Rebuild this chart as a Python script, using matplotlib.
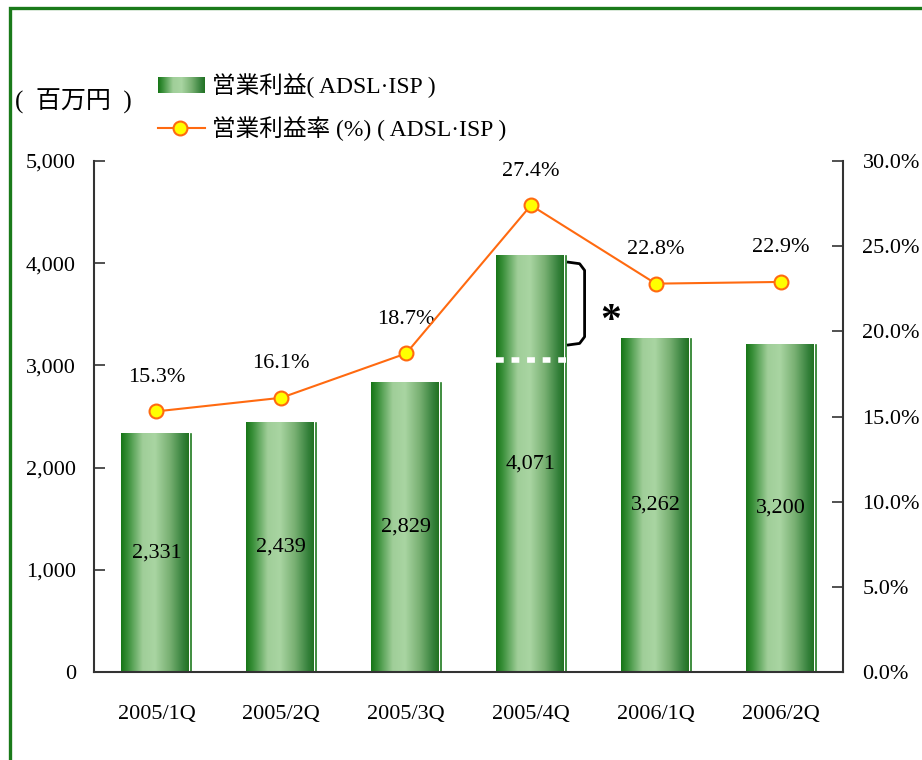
import numpy as np
import matplotlib
matplotlib.use('Agg')
import matplotlib.pyplot as plt
from matplotlib.colors import LinearSegmentedColormap
from matplotlib.lines import Line2D

plt.rcParams['font.family'] = ['Liberation Serif', 'Noto Sans CJK JP', 'DejaVu Sans']

# data
quarters = ['2005/1Q', '2005/2Q', '2005/3Q', '2005/4Q', '2006/1Q', '2006/2Q']
profit = [2331, 2439, 2829, 4071, 3262, 3200]
margin = [15.3, 16.1, 18.7, 27.4, 22.8, 22.9]
left_ticks = [0, 1000, 2000, 3000, 4000, 5000]
right_ticks = [0, 5, 10, 15, 20, 25, 30]
dotted_level = 3053  # dotted line in 2005/4Q bar

bar_cmap = LinearSegmentedColormap.from_list('bar', [
    (0.0, '#167516'), (0.1, '#3a903a'), (0.32, '#a0ce99'), (0.5, '#a9d5a2'),
    (0.72, '#78b072'), (0.92, '#34803a'), (1.0, '#217221')])
grad = np.linspace(0, 1, 256).reshape(1, -1)
fs = 16

fig = plt.figure(figsize=(9.22, 7.6), dpi=100)
ax = fig.add_axes([94 / 922, 1 - 672 / 760, (843 - 94) / 922, (672 - 161) / 760])
x = np.arange(len(quarters))
half = 0.28

for xi, v in zip(x, profit):
    ax.imshow(grad, cmap=bar_cmap, aspect='auto', extent=(xi - half, xi + half - 0.02, 0, v),
              zorder=2, interpolation='bilinear')
    ax.plot([xi + half, xi + half], [0, v], color='#1f7a1f', lw=1.2, zorder=2)
    ax.text(xi, v / 2, f'{v:,}', ha='center', va='center', fontsize=fs, zorder=3)

# dotted white line and bracket on 2005/4Q
ax.plot([3 - half, 3 + half], [dotted_level, dotted_level], color='white', lw=4,
        linestyle=(0, (1.4, 1.4)), solid_capstyle='butt', dash_capstyle='butt', zorder=3)
bx0, bx1 = 3.30, 3.43
ax.plot([bx0, bx1 - 0.04, bx1, bx1, bx1 - 0.04, bx0],
        [4010, 3995, 3930, 3280, 3215, 3200], color='black', lw=2, zorder=3)
ax.text(3.64, 3420, '*', fontsize=30, ha='center', va='center', fontweight='bold')

ax.set_xlim(-0.5, 5.5)
ax.set_ylim(0, 5000)
ax.set_yticks(left_ticks)
ax.set_yticklabels([f'{t:,}' for t in left_ticks], fontsize=fs)
ax.set_xticks(x)
ax.set_xticklabels(quarters, fontsize=fs)
ax.tick_params(axis='x', length=0, pad=24)
ax.tick_params(axis='y', direction='in', length=8, width=1.2, pad=13, colors='#333333', labelcolor='black')
for s in ['top', 'right']:
    ax.spines[s].set_visible(False)
for s in ['left', 'bottom']:
    ax.spines[s].set_linewidth(1.5)
    ax.spines[s].set_color('#333333')

ax2 = ax.twinx()
ax2.plot(x, margin, color='#ff6a10', lw=1.5, marker='o', markersize=10,
         markerfacecolor='#ffff00', markeredgecolor='#ff6a10', markeredgewidth=1.5, zorder=5)
for xi, m in zip(x, margin):
    ax2.annotate(f'{m:.1f}%', (xi, m), xytext=(0, 34), textcoords='offset pixels',
                 ha='center', va='center', fontsize=fs)
ax2.set_ylim(0, 30)
ax2.set_yticks(right_ticks)
ax2.set_yticklabels([f'{t:.1f}%' for t in right_ticks], fontsize=fs)
ax2.tick_params(axis='y', direction='in', length=8, width=1.2, pad=14, colors='#333333', labelcolor='black')
for s in ['top', 'left', 'bottom']:
    ax2.spines[s].set_visible(False)
ax2.spines['right'].set_linewidth(1.5)
ax2.spines['right'].set_color('#333333')

# unit label
fig.text(15 / 922, 1 - 101 / 760, '(  百万円  )', fontsize=18, ha='left', va='center')

# legend
lax = fig.add_axes([158 / 922, 1 - 93 / 760, 47 / 922, 16 / 760])
lax.imshow(grad, cmap=bar_cmap, aspect='auto', interpolation='bilinear')
lax.axis('off')
fig.text(212 / 922, 1 - 85 / 760, '営業利益( ADSL·ISP )', fontsize=17, ha='left', va='center')
fig.add_artist(Line2D([158 / 922, 205 / 922], [1 - 128 / 760] * 2, color='#ff6a10', lw=1.5))
fig.add_artist(Line2D([180 / 922], [1 - 128 / 760], marker='o', markersize=10,
                      markerfacecolor='#ffff00', markeredgecolor='#ff6a10', markeredgewidth=1.5))
fig.text(212 / 922, 1 - 128 / 760, '営業利益率 (%) ( ADSL·ISP )', fontsize=17, ha='left', va='center')

# green frame
fig.add_artist(Line2D([9.5 / 922, 9.5 / 922, 1], [0, 1 - 8 / 760, 1 - 8 / 760],
                      color='#1a7a1a', lw=2.4, solid_joinstyle='miter'))

fig.savefig('out.png', dpi=100)
